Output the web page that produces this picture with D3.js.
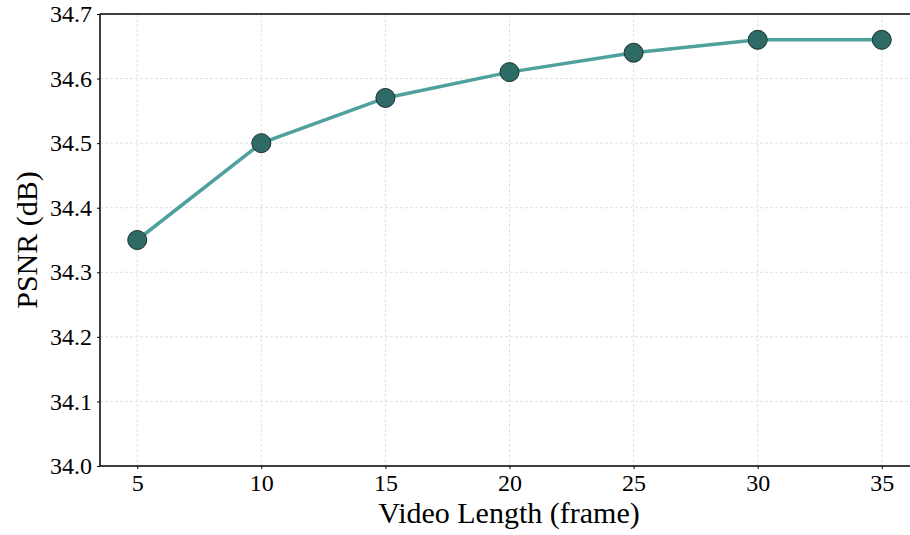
<!DOCTYPE html>
<html>
<head>
<meta charset="utf-8">
<script src="https://cdn.jsdelivr.net/npm/d3@7"></script>
<style>
  body { margin: 0; background: #fff; }
  svg { display: block; font-family: "Liberation Serif", "Times New Roman", serif; }
</style>
</head>
<body>
<svg id="chart" width="910" height="535"></svg>
<script>
const frames = [5, 10, 15, 20, 25, 30, 35]
const psnr = [34.35, 34.50, 34.57, 34.61, 34.64, 34.66, 34.66]
const xTicks = [5, 10, 15, 20, 25, 30, 35]
const yTicks = [34.0, 34.1, 34.2, 34.3, 34.4, 34.5, 34.6, 34.7]

const svg = d3.select("#chart")
const plotLeft = 100, plotRight = 919, plotTop = 14, plotBottom = 466

const x = d3.scaleLinear().domain([3.5, 36.5]).range([plotLeft, plotRight])
const y = d3.scaleLinear().domain([34.0, 34.7]).range([plotBottom, plotTop])

// grid
const grid = svg.append("g").attr("class", "grid")
grid.selectAll("line.gx")
  .data(xTicks)
  .enter().append("line")
    .attr("x1", d => x(d)).attr("x2", d => x(d))
    .attr("y1", plotTop).attr("y2", plotBottom)
    .attr("stroke", "#d9d9d9").attr("stroke-width", 0.8)
    .attr("stroke-dasharray", "3,2")
grid.selectAll("line.gy")
  .data(yTicks)
  .enter().append("line")
    .attr("x1", plotLeft).attr("x2", plotRight)
    .attr("y1", d => y(d)).attr("y2", d => y(d))
    .attr("stroke", "#d9d9d9").attr("stroke-width", 0.8)
    .attr("stroke-dasharray", "3,2")

// axes
const xAxis = svg.append("g")
  .attr("transform", `translate(0,${plotBottom})`)
  .call(d3.axisBottom(x).tickValues(xTicks).tickSize(3).tickPadding(5).tickFormat(d3.format("d")))
const yAxis = svg.append("g")
  .attr("transform", `translate(${plotLeft},0)`)
  .call(d3.axisLeft(y).tickValues(yTicks).tickSize(3).tickPadding(5).tickFormat(d3.format(".1f")))

xAxis.select(".domain").remove()
yAxis.select(".domain").remove()
xAxis.attr("font-family", "Liberation Serif, serif").attr("font-size", 24)
yAxis.attr("font-family", "Liberation Serif, serif").attr("font-size", 24)
svg.selectAll(".tick text").attr("fill", "#000")
svg.selectAll(".tick line").attr("stroke", "#000")

// spines
svg.append("line").attr("x1", plotLeft).attr("x2", plotLeft).attr("y1", plotTop).attr("y2", plotBottom)
  .attr("stroke", "#000").attr("stroke-width", 1.5)
svg.append("line").attr("x1", plotLeft).attr("x2", 910).attr("y1", plotBottom).attr("y2", plotBottom)
  .attr("stroke", "#000").attr("stroke-width", 1.5)
svg.append("line").attr("x1", plotLeft).attr("x2", 910).attr("y1", plotTop).attr("y2", plotTop)
  .attr("stroke", "#000").attr("stroke-width", 1.5)

// line + markers
const data = frames.map((f, i) => ({ f: f, v: psnr[i] }))
svg.append("path")
  .datum(data)
  .attr("fill", "none")
  .attr("stroke", "#4fa19d")
  .attr("stroke-width", 3.5)
  .attr("d", d3.line().x(d => x(d.f)).y(d => y(d.v)))

svg.append("g").selectAll("circle")
  .data(data)
  .enter().append("circle")
    .attr("cx", d => x(d.f))
    .attr("cy", d => y(d.v))
    .attr("r", 9.5)
    .attr("fill", "#2e6b67")
    .attr("stroke", "#1a2f2d")
    .attr("stroke-width", 1)

// labels
svg.append("text")
  .attr("x", 509).attr("y", 523)
  .attr("text-anchor", "middle").attr("font-size", 30)
  .text("Video Length (frame)")
svg.append("text")
  .attr("transform", `translate(37,240) rotate(-90)`)
  .attr("text-anchor", "middle").attr("font-size", 30)
  .text("PSNR (dB)")
</script>
</body>
</html>
